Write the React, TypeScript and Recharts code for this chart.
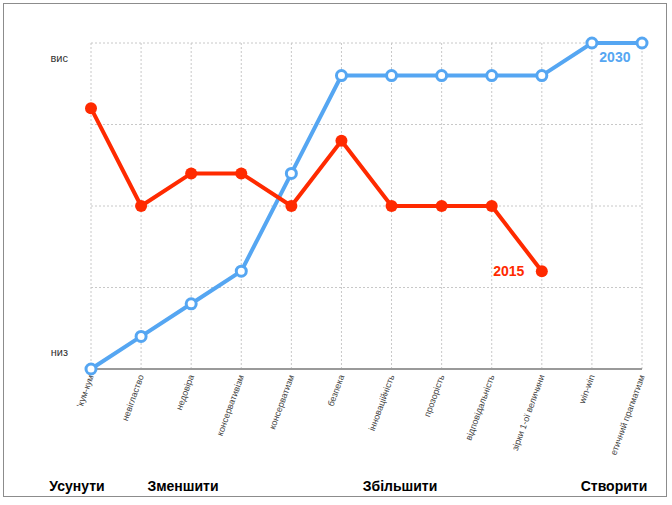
import React from 'react';
import { LineChart, Line, XAxis, YAxis, CartesianGrid, LabelList } from 'recharts';

const categories = [
  "'кум-кум",
  'невігластво',
  'недовіра',
  'консервативізм',
  'консерватизм',
  'безпека',
  'інноваційність',
  'прозорість',
  'відповідальність',
  'зірки 1-ої величини',
  'win-win',
  'етичний прагматизм',
];
const values2015 = [8, 5, 6, 6, 5, 7, 5, 5, 5, 3, null, null];
const values2030 = [0, 1, 2, 3, 6, 9, 9, 9, 9, 9, 10, 10];
const gridTicks = [0, 2.5, 5, 7.5, 10];
const levelTicks = [0.5, 9.5];
const levelNames = ['низ', 'вис'];
const groups = ['Усунути', 'Зменшити', 'Збільшити', 'Створити'];
const groupCenters = [77, 183, 400, 614];

const RED = '#ff2a00';
const BLUE = '#55a6f2';
const FONT = '"Liberation Sans", Arial, Helvetica, sans-serif';

const data = categories.map((name, i) => ({
  name,
  y2015: values2015[i],
  y2030: values2030[i],
}));

function CatTick({ x, y, payload }: any) {
  return (
    <g transform={`translate(${x},${y})`}>
      <text
        textAnchor="end"
        transform="rotate(-70)"
        dy="0.35em"
        fontSize={9}
        fill="#444"
        fontFamily={FONT}
      >
        {payload.value}
      </text>
    </g>
  );
}

function LevelTick({ x, y, payload }: any) {
  const idx = levelTicks.indexOf(payload.value);
  return (
    <text x={x} y={y} dy={3} textAnchor="end" fontSize={11} fill="#333" fontFamily={FONT}>
      {levelNames[idx]}
    </text>
  );
}

// series name printed next to one point of each line
const seriesTag = (text: string, at: number, color: string, dx: number, dy: number) =>
  (props: any) => {
    if (props.index !== at) return null;
    return (
      <text
        x={props.x + dx}
        y={props.y + dy}
        textAnchor="middle"
        fontSize={14}
        fontWeight={700}
        fill={color}
        fontFamily={FONT}
      >
        {text}
      </text>
    );
  };

export default function App() {
  return (
    <div
      style={{
        position: 'fixed',
        left: 0,
        top: 0,
        width: 672,
        height: 505,
        background: '#fff',
        fontFamily: FONT,
      }}
    >
      <div
        style={{
          position: 'absolute',
          left: 3,
          top: 3,
          width: 662,
          height: 492,
          border: '1.5px solid #8c8c8c',
        }}
      />
      <LineChart
        width={672}
        height={505}
        data={data}
        margin={{ top: 43, right: 30, left: 0, bottom: 0 }}
      >
        <CartesianGrid
          yAxisId="lvl"
          stroke="#c8c8c8"
          strokeDasharray="2 2"
          horizontalValues={gridTicks}
        />
        <XAxis
          dataKey="name"
          interval={0}
          height={136}
          tick={<CatTick />}
          tickLine={false}
          tickSize={0}
          tickMargin={6}
          axisLine={{ stroke: '#9a9a9a', strokeWidth: 2 }}
        />
        <YAxis
          yAxisId="lvl"
          domain={[0, 10]}
          ticks={levelTicks}
          width={91}
          axisLine={false}
          tickLine={false}
          tickSize={0}
          tickMargin={23}
          tick={<LevelTick />}
        />
        <Line
          yAxisId="lvl"
          dataKey="y2030"
          stroke={BLUE}
          strokeWidth={4}
          dot={{ r: 5, fill: '#fff', stroke: BLUE, strokeWidth: 3 }}
          activeDot={false}
          isAnimationActive={false}
        >
          <LabelList dataKey="y2030" content={seriesTag('2030', 10, BLUE, 23, 19)} />
        </Line>
        <Line
          yAxisId="lvl"
          dataKey="y2015"
          stroke={RED}
          strokeWidth={4}
          dot={{ r: 6, fill: RED, stroke: RED, strokeWidth: 0 }}
          activeDot={false}
          isAnimationActive={false}
        >
          <LabelList dataKey="y2015" content={seriesTag('2015', 9, RED, -33, 5)} />
        </Line>
      </LineChart>
      {groups.map((g, i) => (
        <div
          key={g}
          style={{
            position: 'absolute',
            left: groupCenters[i],
            top: 478,
            transform: 'translateX(-50%)',
            fontSize: 14,
            fontWeight: 700,
            color: '#000',
            whiteSpace: 'nowrap',
          }}
        >
          {g}
        </div>
      ))}
    </div>
  );
}
